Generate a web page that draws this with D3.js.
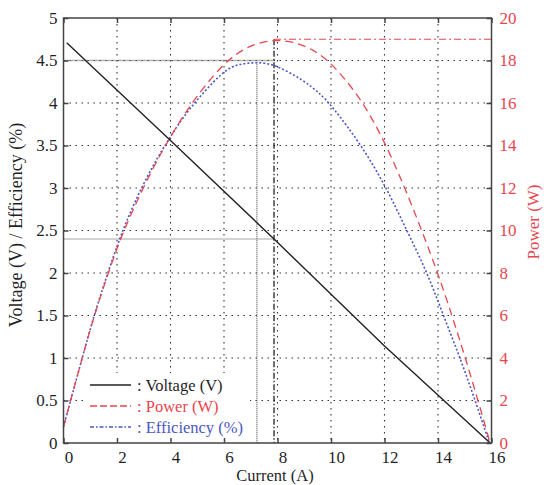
<!DOCTYPE html>
<html>
<head>
<meta charset="utf-8">
<script src="https://cdn.jsdelivr.net/npm/d3@7"></script>
<style>
  body { margin: 0; background: #fff; }
  svg { font-family: "Liberation Serif", "DejaVu Serif", serif; }
</style>
</head>
<body>
<svg id="chart" width="544" height="485"></svg>
<script>
// values
let voltI = [0.12, 4, 7.87, 12, 15.95];
let voltV = [4.71, 3.56, 2.40, 1.14, 0];

let powerI = [0, 0.68, 1.12, 1.62, 2.09, 2.6, 3.36, 3.95, 4.66, 5.96, 6.97, 7.9, 8.72, 9.34, 9.9, 10.55, 11.21, 12.05, 13, 14.0, 14.52, 15.0, 15.45, 15.95];
let powerW = [0.77, 3.92, 5.9, 7.8, 9.5, 11.0, 13.0, 14.3, 15.8, 17.9, 18.75, 19.0, 18.85, 18.5, 18.0, 17.1, 16.0, 14.1, 11.3, 8.0, 6.0, 4.1, 2.2, 0];

let effI = [0, 0.68, 1.12, 1.62, 2.09, 2.6, 3.36, 3.95, 4.55, 6, 6.6, 7.23, 7.87, 8.97, 9.59, 10.0, 11.15, 12.08, 12.83, 13.58, 14.2, 14.83, 15.39, 15.92];
let effV = [0.19, 0.98, 1.48, 1.97, 2.40, 2.8, 3.28, 3.58, 3.88, 4.40, 4.46, 4.48, 4.46, 4.27, 4.11, 3.98, 3.5, 3.0, 2.5, 2.02, 1.5, 1.0, 0.5, 0];

let xTicks = [0, 2, 4, 6, 8, 10, 12, 14, 16];
let yLeftTicks = [0, 0.5, 1, 1.5, 2, 2.5, 3, 3.5, 4, 4.5, 5];
let yRightTicks = [0, 2, 4, 6, 8, 10, 12, 14, 16, 18, 20];

// operating points (max efficiency / max power)
let effPeakI = 7.23, effPeak = 4.48;
let powPeakI = 7.87, powPeak = 19.0, voltAtPeak = 2.40;

let legendItems = [": Voltage (V)", ": Power (W)", ": Efficiency (%)"];

const RED = "#e8464e";
const BLUE = "#4b58c6";
const DARK = "#1f1f2a";

let svg = d3.select("#chart");
let pLeft = 63.5, pRight = 491.5, pTop = 18, pBottom = 443;

let x = d3.scaleLinear().domain([0, 16]).range([pLeft, pRight]);
let y = d3.scaleLinear().domain([0, 5]).range([pBottom, pTop]);
let yP = d3.scaleLinear().domain([0, 20]).range([pBottom, pTop]);

// dotted grid
svg.append("g").selectAll("line")
    .data(xTicks.slice(1, -1))
    .enter().append("line")
    .attr("x1", d => x(d)).attr("x2", d => x(d))
    .attr("y1", pTop).attr("y2", pBottom)
    .attr("stroke", "#333").attr("stroke-width", 1.1)
    .style("stroke-dasharray", "1.5,4.5");
svg.append("g").selectAll("line")
    .data(yLeftTicks.slice(1, -1))
    .enter().append("line")
    .attr("x1", pLeft).attr("x2", pRight)
    .attr("y1", d => y(d)).attr("y2", d => y(d))
    .attr("stroke", "#333").attr("stroke-width", 1.1)
    .style("stroke-dasharray", "1.5,4.5");

// marker lines
function seg(x1, y1, x2, y2, color, dash, w) {
    svg.append("line")
        .attr("x1", x1).attr("y1", y1).attr("x2", x2).attr("y2", y2)
        .attr("stroke", color).attr("stroke-width", w)
        .style("stroke-dasharray", dash);
}
seg(x(0), y(4.5), x(powPeakI), y(4.5), "#666", "1,1", 1.3);
seg(x(0), y(voltAtPeak), x(powPeakI), y(voltAtPeak), "#888", "1,1", 1.3);
seg(x(effPeakI), y(effPeak), x(effPeakI), pBottom, "#666", "1,1", 1.3);
seg(x(powPeakI), yP(powPeak), x(powPeakI), pBottom, "#222", "6,2,1.5,2", 1.3);
seg(x(powPeakI), yP(powPeak), x(16), yP(powPeak), RED, "7,3,2,3", 1.2);

// legend background (hides grid)
svg.append("rect")
    .attr("x", 85).attr("y", 373).attr("width", 165).attr("height", 69)
    .attr("fill", "#fff");

// series
function curve(xs, ys, sy, color, dash, w, shape) {
    let pts = xs.map((d, i) => [d, ys[i]]);
    svg.append("path")
        .datum(pts)
        .attr("fill", "none")
        .attr("stroke", color)
        .attr("stroke-width", w)
        .style("stroke-dasharray", dash)
        .attr("d", d3.line()
            .curve(shape)
            .x(d => x(d[0]))
            .y(d => sy(d[1])));
}
curve(effI, effV, y, BLUE, "2,2", 1.6, d3.curveBasis);
curve(powerI, powerW, yP, RED, "8,5", 1.3, d3.curveBasis);
curve(voltI, voltV, y, "#222", "0", 1.4, d3.curveLinear);

// axes with inward ticks
let fs = "17px";
let gB = svg.append("g").attr("transform", `translate(0,${pBottom})`)
    .call(d3.axisBottom(x).tickValues(xTicks).tickSize(-5).tickPadding(8));
gB.selectAll("text").attr("dx", 5);
let gT = svg.append("g").attr("transform", `translate(0,${pTop})`)
    .call(d3.axisTop(x).tickValues(xTicks).tickSize(-5).tickFormat(""));
let gL = svg.append("g").attr("transform", `translate(${pLeft},0)`)
    .call(d3.axisLeft(y).tickValues(yLeftTicks).tickSize(-5).tickPadding(6).tickFormat(d3.format("")));
let gR = svg.append("g").attr("transform", `translate(${pRight},0)`)
    .call(d3.axisRight(yP).tickValues(yRightTicks).tickSize(-5).tickPadding(8));

[gB, gT, gL, gR].forEach(g => {
    g.select(".domain").remove();
    g.selectAll("line").attr("stroke", "#444").attr("stroke-width", 1.5);
    g.selectAll("text").style("font-size", fs).attr("fill", DARK)
        .style("font-family", "Liberation Serif");
});
gR.selectAll("text").attr("fill", RED);

// frame
svg.append("rect")
    .attr("x", pLeft).attr("y", pTop)
    .attr("width", pRight - pLeft).attr("height", pBottom - pTop)
    .attr("fill", "none").attr("stroke", "#444").attr("stroke-width", 1.5);

// axis titles
svg.append("text")
    .attr("transform", "translate(22,225) rotate(-90)")
    .attr("text-anchor", "middle")
    .style("font-size", "18px").attr("fill", DARK)
    .text("Voltage (V) / Efficiency (%)");
svg.append("text")
    .attr("transform", "translate(539,222) rotate(-90)")
    .attr("text-anchor", "middle")
    .style("font-size", "17px").attr("fill", RED)
    .text("Power (W)");
svg.append("text")
    .attr("x", 275).attr("y", 481.4)
    .attr("text-anchor", "middle")
    .style("font-size", "16.5px").attr("fill", DARK)
    .text("Current (A)");

// legend
let legColors = ["#222", RED, BLUE];
let legDash = ["0", "7,3", "4,2,1.5,2"];
let legText = [DARK, RED, BLUE];
let leg = svg.append("g").selectAll("g")
    .data(legendItems)
    .enter().append("g")
    .attr("transform", (d, i) => `translate(0,${385 + i * 21})`);
leg.append("line")
    .attr("x1", 90).attr("x2", 131)
    .attr("stroke", (d, i) => legColors[i])
    .attr("stroke-width", 1.4)
    .style("stroke-dasharray", (d, i) => legDash[i]);
leg.append("text")
    .attr("x", 137).attr("y", 6)
    .style("font-size", "16.5px")
    .attr("fill", (d, i) => legText[i])
    .text(d => d);
</script>
</body>
</html>
